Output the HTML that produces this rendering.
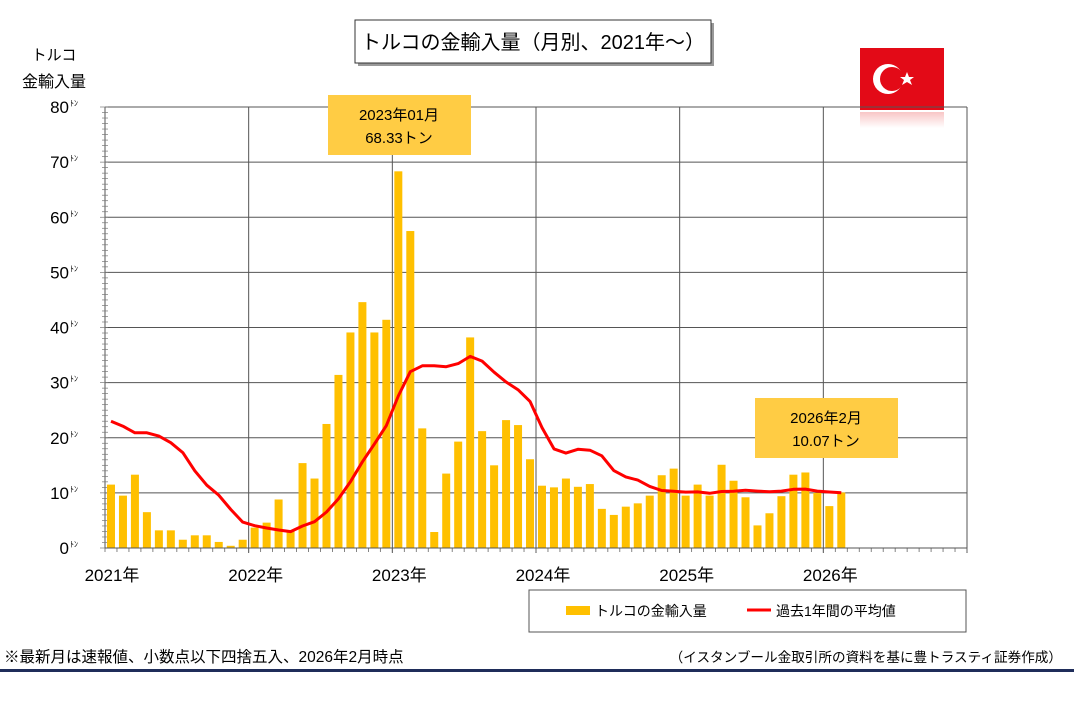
<!DOCTYPE html>
<html><head><meta charset="utf-8">
<style>
body{margin:0;background:#fff;width:1074px;height:707px;overflow:hidden;font-family:"Liberation Sans","Noto Sans CJK JP",sans-serif;}
svg text{font-family:"Liberation Sans","Noto Sans CJK JP",sans-serif;}
</style></head><body>
<svg id="s" width="1074" height="707" xmlns="http://www.w3.org/2000/svg"></svg>
<script>
const bars=[11.5,9.5,13.3,6.5,3.2,3.2,1.5,2.3,2.3,1.1,0.4,1.5,
3.7,4.6,8.8,3.1,15.4,12.6,22.5,31.4,39.1,44.6,39.1,41.4,
68.33,57.5,21.7,2.9,13.5,19.3,38.2,21.2,15.0,23.2,22.3,16.1,
11.3,11.0,12.6,11.1,11.6,7.1,6.0,7.5,8.1,9.5,13.2,14.4,
9.5,11.5,9.5,15.1,12.2,9.2,4.1,6.3,9.4,13.3,13.7,10.0,
7.6,10.07];
const line=[23.0,22.1,20.9,20.9,20.3,19.1,17.3,14.0,11.4,9.6,7.0];
for(let i=11;i<bars.length;i++){let s=0;for(let j=i-11;j<=i;j++)s+=bars[j];line.push(s/12);}
const X0=105,X1=967,Y0=548,YT=107,mw=(X1-X0)/72,u=(Y0-YT)/80;
const y=v=>Y0-v*u, xc=i=>X0+(i+0.5)*mw;
let h='';
h+=`<rect x="358" y="23" width="356" height="43" fill="#999"/><rect x="355" y="20" width="356" height="43" fill="#fff" stroke="#333" stroke-width="1"/>`;
h+=`<text x="533" y="49" font-size="20" text-anchor="middle" fill="#000">トルコの金輸入量（月別、2021年～）</text>`;
h+=`<defs><linearGradient id="g" x1="0" y1="0" x2="0" y2="1"><stop offset="0" stop-color="#f4a0a0"/><stop offset="1" stop-color="#fff"/></linearGradient></defs>`;
h+=`<rect x="860" y="48" width="84" height="62" fill="#e30a17"/><rect x="860" y="112" width="84" height="16" fill="url(#g)" opacity="0.6"/>`;
h+=`<circle cx="888" cy="79" r="15" fill="#fff"/><circle cx="892" cy="79" r="12" fill="#e30a17"/>`;
h+=`<polygon points="907,72 909,77 914,77 910,80 912,85 907,82 902,85 904,80 900,77 905,77" fill="#fff"/>`;
h+=`<text x="54" y="60" font-size="15" text-anchor="middle">トルコ</text><text x="54" y="87" font-size="16" text-anchor="middle">金輸入量</text>`;
for(let v=10;v<=80;v+=10)h+=`<line x1="${X0}" x2="${X1}" y1="${y(v)}" y2="${y(v)}" stroke="#555" stroke-width="1"/>`;
for(let k=1;k<=6;k++){let x=X0+k*12*mw;h+=`<line x1="${x}" x2="${x}" y1="${YT}" y2="${Y0+5}" stroke="#555" stroke-width="1"/>`;}
h+=`<line x1="${X0}" x2="${X0}" y1="${YT}" y2="${Y0}" stroke="#555"/>`;
for(let v=0;v<=80;v++){let w=v%10==0?5:3;h+=`<line x1="${X0-w}" x2="${X0+3}" y1="${y(v)}" y2="${y(v)}" stroke="#777" stroke-width="0.7"/>`;}
for(let m=0;m<=72;m++){let x=X0+m*mw;h+=`<line x1="${x}" x2="${x}" y1="${Y0}" y2="${Y0+4}" stroke="#666" stroke-width="0.8"/>`;}
for(let v=0;v<=80;v+=10)h+=`<text x="${X0-36}" y="${y(v)+6}" font-size="17" text-anchor="end">${v}</text><text x="${X0-35}" y="${y(v)-1}" font-size="8">ﾄﾝ</text>`;
h+=`<line x1="${X0+24*mw}" x2="${X0+24*mw}" y1="150" y2="${YT}" stroke="#555"/>`;
bars.forEach((v,i)=>{h+=`<rect x="${xc(i)-4}" y="${y(v)}" width="8" height="${v*u}" fill="#FFC000"/>`;});
h+=`<line x1="${X0}" x2="${X1}" y1="${Y0}" y2="${Y0}" stroke="#555"/>`;
h+=`<polyline fill="none" stroke="#ff0000" stroke-width="3" stroke-linejoin="round" points="${line.map((v,i)=>xc(i).toFixed(1)+','+y(v).toFixed(1)).join(' ')}"/>`;
for(let k=0;k<=5;k++)h+=`<text x="${X0+k*12*mw+7}" y="581" font-size="17" text-anchor="middle">${2021+k}年</text>`;
h+=`<rect x="328" y="95" width="143" height="60" fill="#FFCC44"/><text x="399" y="120" font-size="15" text-anchor="middle">2023年01月</text><text x="399" y="143" font-size="15" text-anchor="middle">68.33トン</text>`;
h+=`<rect x="755" y="398" width="143" height="60" fill="#FFCC44"/><text x="826" y="423" font-size="15" text-anchor="middle">2026年2月</text><text x="826" y="446" font-size="15" text-anchor="middle">10.07トン</text>`;
h+=`<rect x="529" y="590" width="437" height="42" fill="#fff" stroke="#555"/>`;
h+=`<rect x="566" y="606" width="24" height="9" fill="#FFC000"/><text x="595" y="616" font-size="14">トルコの金輸入量</text>`;
h+=`<line x1="747" x2="771" y1="610" y2="610" stroke="#ff0000" stroke-width="3"/><text x="776" y="616" font-size="14">過去1年間の平均値</text>`;
h+=`<text x="4" y="662" font-size="15.5">※最新月は速報値、小数点以下四捨五入、2026年2月時点</text>`;
h+=`<text x="1062" y="662" font-size="13.6" text-anchor="end">（イスタンブール金取引所の資料を基に豊トラスティ証券作成）</text>`;
h+=`<rect x="0" y="669" width="1074" height="3" fill="#1f2d5a"/>`;
document.getElementById('s').innerHTML=h;
</script>
</body></html>
